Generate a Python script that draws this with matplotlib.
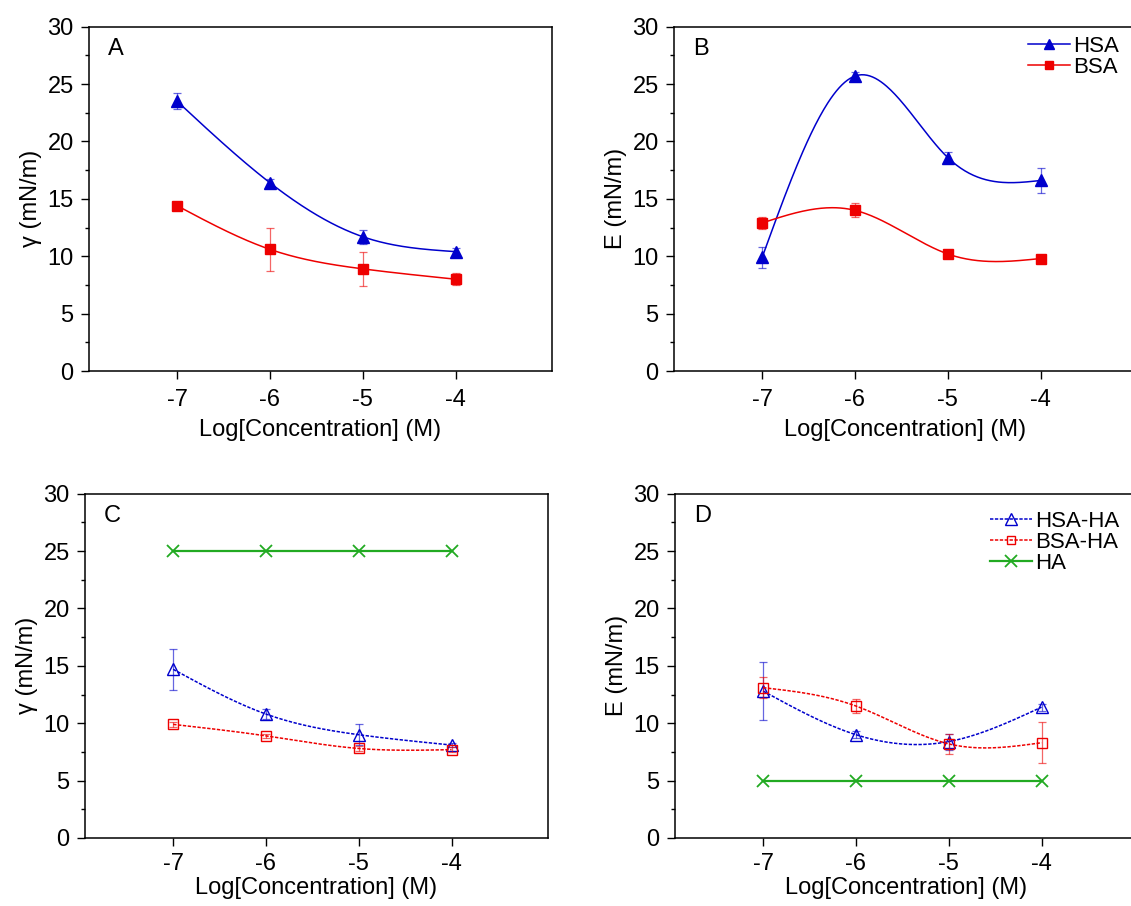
import matplotlib
matplotlib.use('Agg')
import matplotlib.pyplot as plt
from matplotlib.ticker import MultipleLocator
import numpy as np

plt.rcParams['font.family'] = ['Liberation Sans', 'DejaVu Sans']
plt.rcParams['axes.unicode_minus'] = False

# ---- data ----
log_conc = [-7, -6, -5, -4]
tick_labels = ['-7', '-6', '-5', '-4']

# Panel A: surface tension gamma
A_hsa = [23.5, 16.4, 11.7, 10.4]
A_hsa_err = [0.7, 0.35, 0.6, 0.3]
A_bsa = [14.4, 10.6, 8.9, 8.0]
A_bsa_err = [0.2, 1.9, 1.5, 0.5]

# Panel B: elasticity E
B_hsa = [9.9, 25.7, 18.6, 16.6]
B_hsa_err = [0.9, 0.35, 0.5, 1.1]
B_bsa = [12.9, 14.0, 10.2, 9.8]
B_bsa_err = [0.5, 0.6, 0.3, 0.2]

# Panel C: gamma with HA
C_hsaha = [14.7, 10.8, 9.0, 8.1]
C_hsaha_err = [1.8, 0.4, 0.9, 0.2]
C_bsaha = [9.9, 8.9, 7.8, 7.7]
C_bsaha_err = [0.2, 0.2, 0.2, 0.2]
C_ha = [25, 25, 25, 25]

# Panel D: E with HA
D_hsaha = [12.8, 9.0, 8.4, 11.4]
D_hsaha_err = [2.5, 0.3, 0.7, 0.3]
D_bsaha = [13.1, 11.5, 8.2, 8.3]
D_bsaha_err = [0.9, 0.6, 0.9, 1.8]
D_ha = [5, 5, 5, 5]

BLUE = '#0000CC'
RED = '#EE0000'
GREEN = '#22AA22'
FS = 17
LFS = 16


def natural_spline(x, y, n=200):
    x = np.asarray(x, float)
    y = np.asarray(y, float)
    k = len(x)
    h = np.diff(x)
    A = np.zeros((k, k))
    r = np.zeros(k)
    A[0, 0] = 1
    A[-1, -1] = 1
    for i in range(1, k - 1):
        A[i, i - 1] = h[i - 1]
        A[i, i] = 2 * (h[i - 1] + h[i])
        A[i, i + 1] = h[i]
        r[i] = 6 * ((y[i + 1] - y[i]) / h[i] - (y[i] - y[i - 1]) / h[i - 1])
    M = np.linalg.solve(A, r)
    xs = np.linspace(x[0], x[-1], n)
    ys = np.empty_like(xs)
    for j, t in enumerate(xs):
        i = min(np.searchsorted(x, t, side='right') - 1, k - 2)
        i = max(i, 0)
        a = x[i + 1] - t
        b = t - x[i]
        ys[j] = (M[i] * a ** 3 / (6 * h[i]) + M[i + 1] * b ** 3 / (6 * h[i])
                 + (y[i] / h[i] - M[i] * h[i] / 6) * a
                 + (y[i + 1] / h[i] - M[i + 1] * h[i] / 6) * b)
    return xs, ys


W, H = 1131, 906
fig = plt.figure(figsize=(W / 100, H / 100), dpi=100)


def add_axes(left, top, right, bottom):
    return fig.add_axes([left / W, 1 - bottom / H, (right - left) / W, (bottom - top) / H])


axA = add_axes(89, 26.7, 552, 371)
axB = add_axes(674, 26.7, 1137, 371)
axC = add_axes(85, 493.7, 548, 838)
axD = add_axes(675, 493.7, 1138, 838)


def style(ax, ylabel, letter, xpad, xlabelpad):
    ax.set_xlim(-7.95, -2.96)
    ax.set_ylim(0, 30)
    ax.set_xticks(log_conc)
    ax.set_xticklabels(tick_labels)
    ax.yaxis.set_major_locator(MultipleLocator(5))
    ax.yaxis.set_minor_locator(MultipleLocator(2.5))
    ax.tick_params(which='both', direction='out', top=False, right=False,
                   labelsize=FS, width=1.0)
    ax.tick_params(axis='x', pad=xpad)
    ax.tick_params(axis='y', pad=5)
    ax.tick_params(which='major', length=6)
    ax.tick_params(which='minor', length=3)
    for s in ax.spines.values():
        s.set_linewidth(1.1)
    ax.set_ylabel(ylabel, fontsize=FS, labelpad=4)
    ax.set_xlabel('Log[Concentration] (M)', fontsize=FS, labelpad=xlabelpad)
    ax.text(0.041, 0.968, letter, transform=ax.transAxes, fontsize=FS,
            ha='left', va='top')


def smooth_series(ax, y, err, color, marker, ls, mfc, ms, label):
    xs, ys = natural_spline(log_conc, y)
    ax.plot(xs, ys, color=color, lw=1.1, ls=ls)
    ax.errorbar(log_conc, y, yerr=err, fmt='none', ecolor=color, elinewidth=0.9,
                capsize=3, capthick=0.9, alpha=0.6)
    ax.plot(log_conc, y, ls='none', marker=marker, color=color, mfc=mfc,
            mec=color, ms=ms, mew=1.0)
    # legend proxy
    ax.plot([], [], color=color, lw=1.1, ls=ls, marker=marker, mfc=mfc,
            mec=color, ms=ms * 0.9, mew=1.0, label=label)


# Panel A
style(axA, 'γ (mN/m)', 'A', 7, 6)
smooth_series(axA, A_hsa, A_hsa_err, BLUE, '^', '-', BLUE, 8, 'HSA')
smooth_series(axA, A_bsa, A_bsa_err, RED, 's', '-', RED, 6.5, 'BSA')

# Panel B
style(axB, 'E (mN/m)', 'B', 7, 6)
smooth_series(axB, B_hsa, B_hsa_err, BLUE, '^', '-', BLUE, 8, 'HSA')
smooth_series(axB, B_bsa, B_bsa_err, RED, 's', '-', RED, 6.5, 'BSA')
axB.legend(loc='upper left', bbox_to_anchor=(1028 / W, 1 - 36 / H),
           bbox_transform=fig.transFigure, frameon=False, fontsize=LFS,
           handlelength=1.9, handletextpad=0.15, labelspacing=0.0,
           borderpad=0, borderaxespad=0)

DASH = (0, (2.2, 1.0))

# Panel C
style(axC, 'γ (mN/m)', 'C', 5, 1)
smooth_series(axC, C_hsaha, C_hsaha_err, BLUE, '^', DASH, 'none', 9, 'HSA-HA')
smooth_series(axC, C_bsaha, C_bsaha_err, RED, 's', DASH, 'none', 7, 'BSA-HA')
axC.plot(log_conc, C_ha, color=GREEN, lw=1.6, marker='x', ms=8, mew=1.3, label='HA')

# Panel D
style(axD, 'E (mN/m)', 'D', 5, 1)
smooth_series(axD, D_hsaha, D_hsaha_err, BLUE, '^', DASH, 'none', 9, 'HSA-HA')
smooth_series(axD, D_bsaha, D_bsaha_err, RED, 's', DASH, 'none', 7, 'BSA-HA')
axD.plot(log_conc, D_ha, color=GREEN, lw=1.6, marker='x', ms=8, mew=1.3, label='HA')
axD.legend(loc='upper left', bbox_to_anchor=(990 / W, 1 - 511 / H),
           bbox_transform=fig.transFigure, frameon=False, fontsize=LFS,
           handlelength=1.9, handletextpad=0.15, labelspacing=0.0,
           borderpad=0, borderaxespad=0)

fig.savefig('out.png', dpi=100)
